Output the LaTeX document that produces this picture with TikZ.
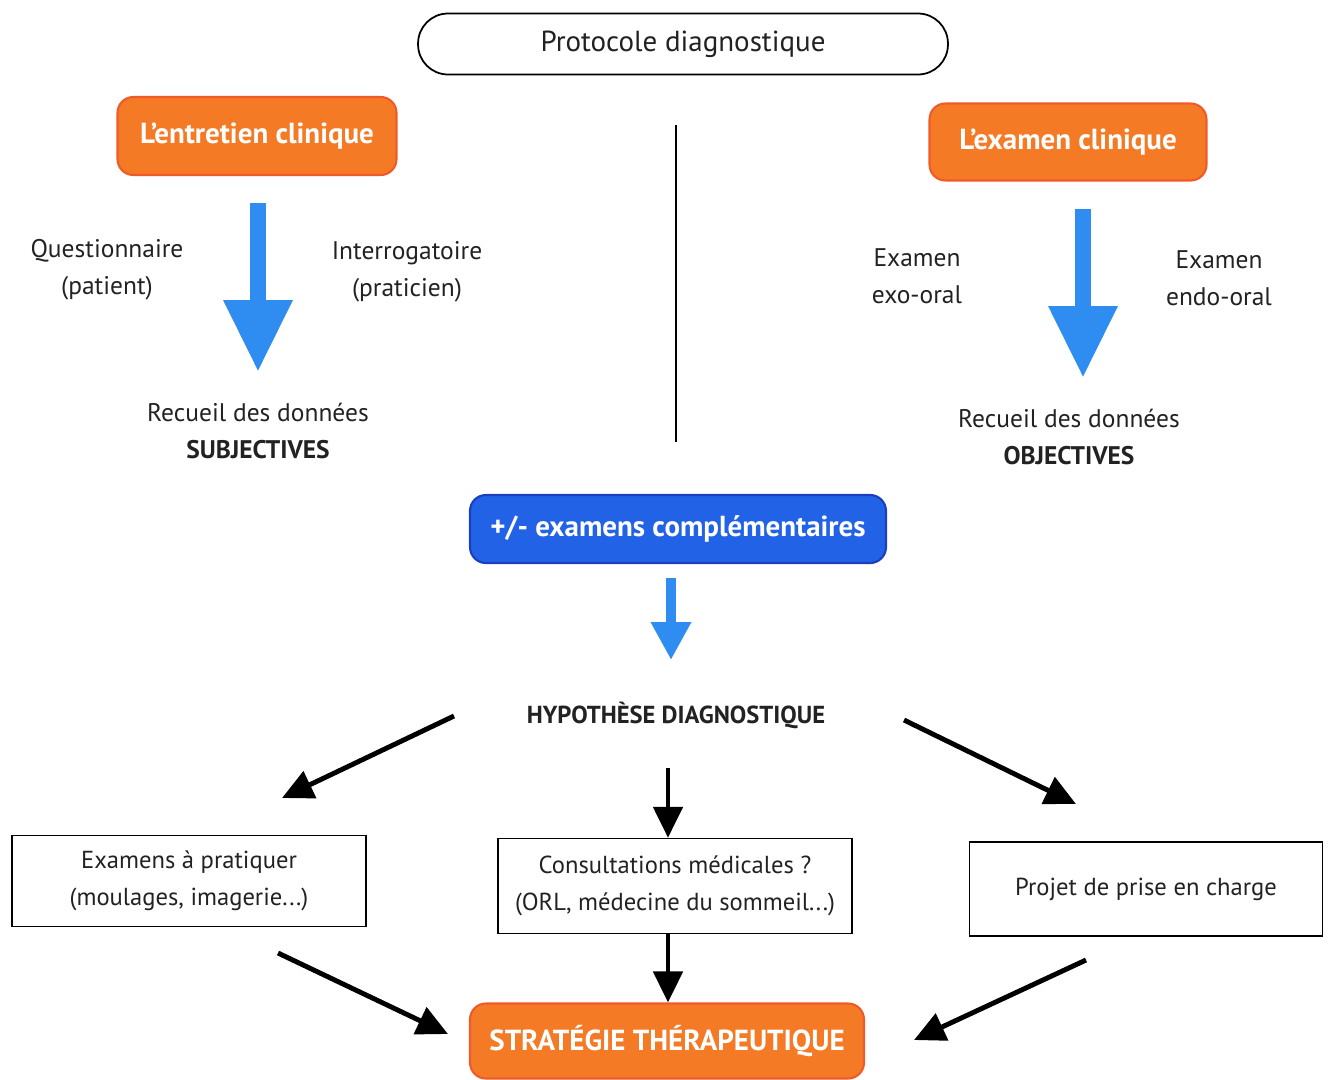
\documentclass[tikz,border=0pt]{standalone}
\usepackage{fontspec}
\setmainfont{PT Sans}
\usetikzlibrary{arrows.meta,positioning}
\definecolor{orange1}{HTML}{F57A25}
\definecolor{orange2}{HTML}{EF5A2A}
\definecolor{blue1}{HTML}{2262E6}
\definecolor{blue2}{HTML}{1C3FBF}
\definecolor{blue3}{HTML}{2F8CF0}
\definecolor{ink}{HTML}{222222}

\begin{document}
\begin{tikzpicture}[x=0.02cm,y=-0.02cm,thick]
\tikzstyle{title}=[draw=orange2,fill=orange1,line width=1.2pt,rounded corners=9pt,text=white,font=\bfseries\fontsize{16.5}{19}\selectfont]
\tikzstyle{step box}=[draw=black,line width=0.8pt,fill=white,text=ink,align=center,font=\fontsize{14}{21}\selectfont]
\tikzstyle{label}=[text=ink,align=center,font=\fontsize{14.5}{21}\selectfont]
\tikzstyle{fat arrow}=[draw=blue3,line width=0.32cm,-{Triangle[length=1.44cm,width=1.3cm]}]
\tikzstyle{small arrow}=[draw=blue3,line width=0.2cm,-{Triangle[length=0.76cm,width=0.76cm]}]
\tikzstyle{arr}=[draw=black,line width=2.8pt,-{Triangle[length=0.62cm,width=0.58cm]}]

\useasboundingbox (0,0) rectangle (1331,1079);

% Top of the diagram
\node[draw=black,line width=1pt,rounded corners=0.6cm,minimum width=10.6cm,minimum height=1.22cm,text=ink,font=\fontsize{16.5}{19}\selectfont] (proto) at (683,44) {Protocole diagnostique};
\node[title,minimum width=5.58cm,minimum height=1.56cm] (entretien) at (257,136) {L'entretien clinique};
\node[title,minimum width=5.54cm,minimum height=1.54cm] (examen) at (1068,142) {L'examen clinique};

% Separation line
\coordinate (sep-top) at (676,125);
\coordinate (sep-bot) at (676,442);
\draw[line width=1pt] (sep-top) -- (sep-bot);

% Left branch
\node[label] (quest) at (107,270) {Questionnaire\\(patient)};
\node[label] (interro) at (407,272) {Interrogatoire\\(praticien)};
\node[label] (subj) at (258,431) {Recueil des données\\\textbf{SUBJECTIVES}};
\coordinate (l-top) at (258,203);
\coordinate (l-bot) at (258,372);
\draw[fat arrow] (l-top) -- (l-bot);

% Right branch
\node[label] (exo) at (917,276) {Examen\\exo-oral};
\node[label] (endo) at (1219,278) {Examen\\endo-oral};
\node[label] (obj) at (1069,437) {Recueil des données\\\textbf{OBJECTIVES}};
\coordinate (r-top) at (1083,209);
\coordinate (r-bot) at (1083,378);
\draw[fat arrow] (r-top) -- (r-bot);

% Middle
\node[draw=blue2,fill=blue1,line width=1.2pt,rounded corners=9pt,minimum width=8.32cm,minimum height=1.36cm,text=white,font=\bfseries\fontsize{16.5}{19}\selectfont] (compl) at (678,529) {+/- examens complémentaires};
\coordinate (m-top) at (671,578);
\coordinate (m-bot) at (671,660);
\draw[small arrow] (m-top) -- (m-bot);
\node[text=ink,font=\bfseries\fontsize{14}{17}\selectfont] (hyp) at (676,715) {HYPOTHÈSE DIAGNOSTIQUE};

% The three boxes
\node[step box,minimum width=7.08cm,minimum height=1.82cm] (prat) at (189,881) {Examens à pratiquer\\(moulages, imagerie...)};
\node[step box,minimum width=7.08cm,minimum height=1.9cm] (consult) at (675,886) {Consultations médicales ?\\(ORL, médecine du sommeil...)};
\node[step box,minimum width=7.06cm,minimum height=1.88cm] (projet) at (1146,889) {Projet de prise en charge};

\node[title,minimum width=7.88cm,minimum height=1.5cm] (strat) at (667,1041) {STRATÉGIE THÉRAPEUTIQUE};

% Arrows from the hypothesis
\coordinate (h-l) at (454,716);
\coordinate (h-m) at (668,768);
\coordinate (h-r) at (904,720);
\coordinate (prat-in) at (282,798);
\coordinate (projet-in) at (1076,804);
\draw[arr] (h-l) -- (prat-in);
\draw[arr] (h-m) -- (h-m |- consult.north);
\draw[arr] (h-r) -- (projet-in);

% Arrows to the strategy
\coordinate (prat-out) at (278,953);
\coordinate (projet-out) at (1086,960);
\coordinate (s-l) at (448,1034);
\coordinate (s-r) at (914,1040);
\draw[arr] (prat-out) -- (s-l);
\draw[arr] (h-m |- consult.south) -- (h-m |- strat.north);
\draw[arr] (projet-out) -- (s-r);
\end{tikzpicture}
\end{document}
